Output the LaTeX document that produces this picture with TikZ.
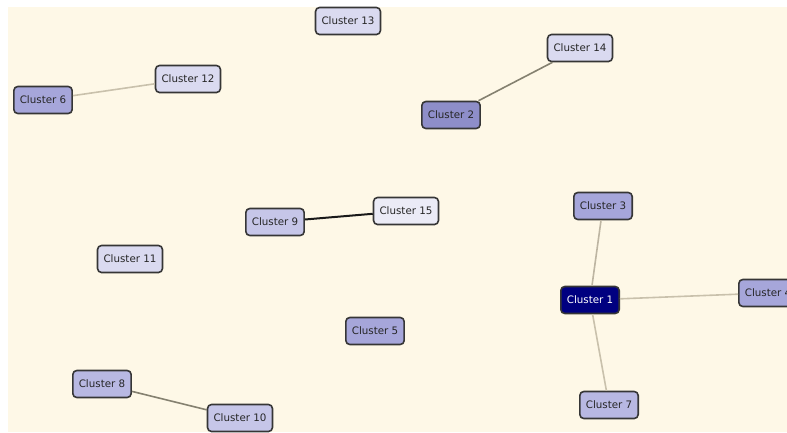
\documentclass[tikz,border=0pt]{standalone}
\usepackage{fontspec}
\setmainfont{DejaVu Sans}
\definecolor{bgcream}{HTML}{FEF8E7}
\definecolor{bordergray}{HTML}{363636}
\definecolor{fdark}{HTML}{8E8EC9}
\definecolor{fmid}{HTML}{A6A6DA}
\definecolor{fmid2}{HTML}{B8B8E2}
\definecolor{fsoft}{HTML}{C6C6E8}
\definecolor{flight}{HTML}{DADAF0}
\definecolor{fpale}{HTML}{EBEBF6}
\definecolor{fnavy}{HTML}{000080}
\definecolor{etan}{HTML}{C9C1AC}
\definecolor{egray}{HTML}{858170}
\definecolor{etan2}{HTML}{BDB5A2}
\begin{document}
\begin{tikzpicture}[x=1pt,y=-1pt,
  cl/.style={draw=bordergray, line width=1.6pt, rounded corners=4pt,
    minimum height=27pt, inner xsep=6pt, inner ysep=0pt,
    font=\fontsize{10.3}{12}\selectfont, text=black!85},
  link/.style={line width=1.6pt}]
\clip (0,0) rectangle (787,432);
\fill[white] (0,0) rectangle (787,432);
\fill[bgcream] (8,7) rectangle (787,432);

\node[cl, fill=flight] (c13) at (348,21) {Cluster 13};
\node[cl, fill=flight] (c14) at (580,48) {Cluster 14};
\node[cl, fill=flight] (c12) at (188,79) {Cluster 12};
\node[cl, fill=fmid] (c6) at (43,100) {Cluster 6};
\node[cl, fill=fdark] (c2) at (451,115) {Cluster 2};
\node[cl, fill=fsoft] (c9) at (275,222) {Cluster 9};
\node[cl, fill=fpale] (c15) at (406,211) {Cluster 15};
\node[cl, fill=fmid] (c3) at (603,206) {Cluster 3};
\node[cl, fill=flight] (c11) at (130,259) {Cluster 11};
\node[cl, fill=fnavy, text=white] (c1) at (590,300) {Cluster 1};
\node[cl, fill=fmid] (c4) at (768,293) {Cluster 4};
\node[cl, fill=fmid] (c5) at (375,331) {Cluster 5};
\node[cl, fill=fmid2] (c8) at (102,384) {Cluster 8};
\node[cl, fill=fsoft] (c10) at (240,418) {Cluster 10};
\node[cl, fill=fmid2] (c7) at (609,405) {Cluster 7};

\draw[link, etan] (c6) -- (c12);
\draw[link, egray] (c2) -- (c14);
\draw[link, black!90, line width=2pt] (c9) -- (c15);
\draw[link, etan2] (c1) -- (c3);
\draw[link, etan] (c1) -- (c4);
\draw[link, etan] (c1) -- (c7);
\draw[link, egray] (c8) -- (c10);
\end{tikzpicture}
\end{document}
